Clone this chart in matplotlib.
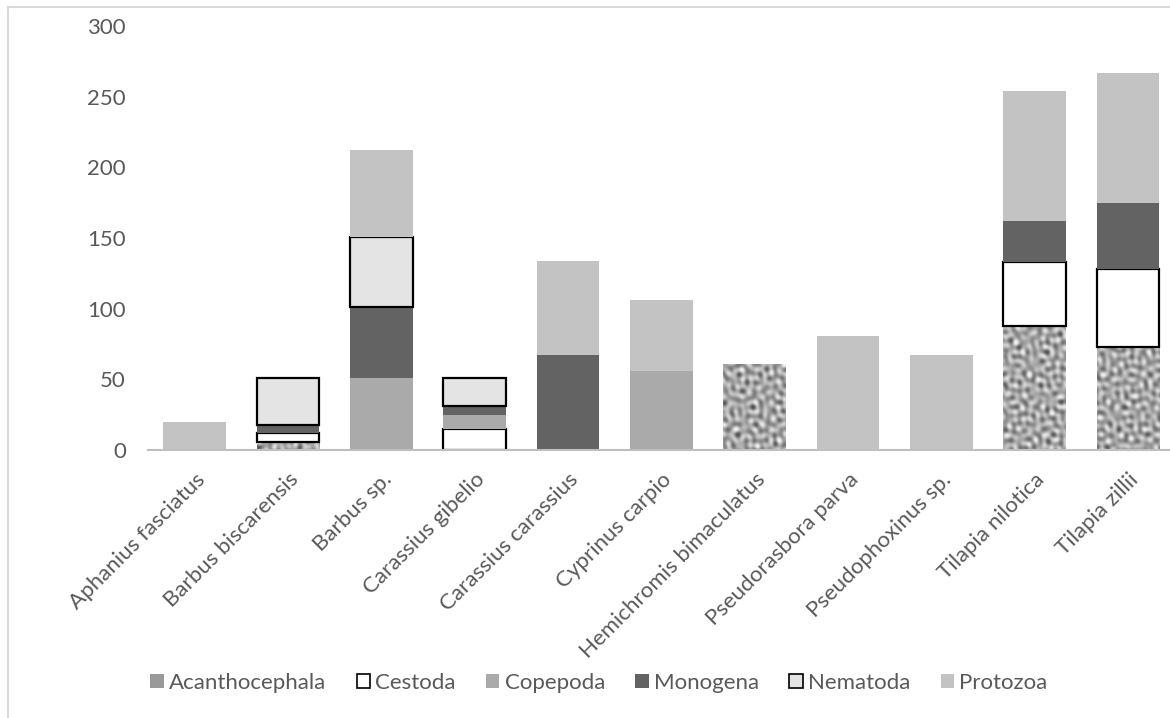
import numpy as np
import matplotlib
matplotlib.use('Agg')
from matplotlib import pyplot as plt
from matplotlib.patches import Patch
from matplotlib.lines import Line2D

# Data
species = ['Aphanius fasciatus', 'Barbus biscarensis', 'Barbus sp.', 'Carassius gibelio',
           'Carassius carassius', 'Cyprinus carpio', 'Hemichromis bimaculatus',
           'Pseudorasbora parva', 'Pseudophoxinus sp.', 'Tilapia nilotica', 'Tilapia zillii']
acanthocephala = [0, 6, 0, 0, 0, 0, 61, 0, 0, 88, 73]
cestoda = [0, 6, 0, 15, 0, 0, 0, 0, 0, 45, 55]
copepoda = [0, 0, 51, 10, 0, 56, 0, 0, 0, 0, 0]
monogena = [0, 6, 50, 6, 67, 0, 0, 0, 0, 29, 47]
nematoda = [0, 33, 50, 20, 0, 0, 0, 0, 0, 0, 0]
protozoa = [20, 0, 61, 0, 67, 50, 0, 81, 67, 92, 92]
yticks = [0, 50, 100, 150, 200, 250, 300]

plt.rcParams['font.family'] = ['Lato', 'DejaVu Sans']
txt = '#595959'
fs = 16

fig = plt.figure(figsize=(11.7, 7.18), dpi=100)
ax = fig.add_axes([148 / 1170, (718 - 450) / 718, 1022 / 1170, 424 / 718])

x = np.arange(len(species))
w = 0.67
xlim = (-0.5, 10.45)


def texture(h, wd):
    # mottled grey texture: sum of waves in many directions (pixel scale)
    yy, xx = np.mgrid[0:h, 0:wd].astype(float)
    t = np.zeros((h, wd))
    for k in range(16):
        th = k * 2.39996
        per = 7.0 + 5.0 * ((k * 0.618) % 1.0)
        t += np.cos(2 * np.pi / per * (xx * np.cos(th) + yy * np.sin(th)) + k * 1.7)
    t = (t - t.min()) / (t.max() - t.min())
    t = np.clip((t - 0.5) * 1.6 + 0.5, 0, 1)
    return 0.33 + 0.6 * t


tex = texture(424, 1022)

bottom = np.zeros(len(species))
bars = ax.bar(x, acanthocephala, w, bottom=bottom, color='#9a9a9a', linewidth=0)
for b in bars:
    if b.get_height() > 0:
        im = ax.imshow(tex, cmap='gray', vmin=0, vmax=1, aspect='auto', zorder=2,
                       interpolation='bilinear',
                       extent=(xlim[0], xlim[1], 0, 300))
        im.set_clip_path(b)
bottom += acanthocephala

ax.bar(x, cestoda, w, bottom=bottom, color='white', edgecolor='black', linewidth=1.6, zorder=3)
bottom += cestoda
ax.bar(x, copepoda, w, bottom=bottom, color='#aaaaaa', linewidth=0, zorder=3)
bottom += copepoda
ax.bar(x, monogena, w, bottom=bottom, color='#636363', linewidth=0, zorder=3)
bottom += monogena
ax.bar(x, nematoda, w, bottom=bottom, color='#e4e4e4', edgecolor='black', linewidth=1.6, zorder=3)
bottom += nematoda
ax.bar(x, protozoa, w, bottom=bottom, color='#c3c3c3', linewidth=0, zorder=3)

# hide zero-height edges for outlined series
for p in ax.patches:
    if p.get_height() == 0:
        p.set_visible(False)

ax.set_xlim(*xlim)
ax.set_ylim(0, 300)
ax.set_yticks(yticks)
ax.set_yticklabels([str(v) for v in yticks], fontsize=fs, color=txt)
ax.set_xticks(x)
ax.set_xticklabels(species, rotation=45, ha='right', rotation_mode='anchor',
                   fontsize=fs, color=txt)
ax.tick_params(axis='both', length=0)
ax.tick_params(axis='y', pad=16)
ax.tick_params(axis='x', pad=14)
for s in ['top', 'right', 'left']:
    ax.spines[s].set_visible(False)
ax.spines['bottom'].set_color('#bfbfbf')
ax.spines['bottom'].set_linewidth(1.5)
ax.spines['bottom'].set_zorder(4)

handles = [Patch(facecolor='#9a9a9a', edgecolor='none'),
           Patch(facecolor='white', edgecolor='black', linewidth=1.2),
           Patch(facecolor='#aaaaaa', edgecolor='none'),
           Patch(facecolor='#636363', edgecolor='none'),
           Patch(facecolor='#e4e4e4', edgecolor='black', linewidth=1.2),
           Patch(facecolor='#c3c3c3', edgecolor='none')]
labels = ['Acanthocephala', 'Cestoda', 'Copepoda', 'Monogena', 'Nematoda', 'Protozoa']
leg = fig.legend(handles, labels, loc='center', bbox_to_anchor=(0.512, (718 - 683) / 718),
                 ncol=6, frameon=False, fontsize=fs, handlelength=0.6, handleheight=0.6,
                 handletextpad=0.25, columnspacing=1.35, labelcolor=txt)

# light outer frame (left and top edges visible in the reference)
fig.add_artist(Line2D([8 / 1170, 8 / 1170], [0, 1 - 7 / 718], transform=fig.transFigure,
                      color='#d9d9d9', linewidth=1.5))
fig.add_artist(Line2D([8 / 1170, 1], [1 - 7 / 718, 1 - 7 / 718], transform=fig.transFigure,
                      color='#d9d9d9', linewidth=1.5))

fig.savefig('out.png', dpi=100)
